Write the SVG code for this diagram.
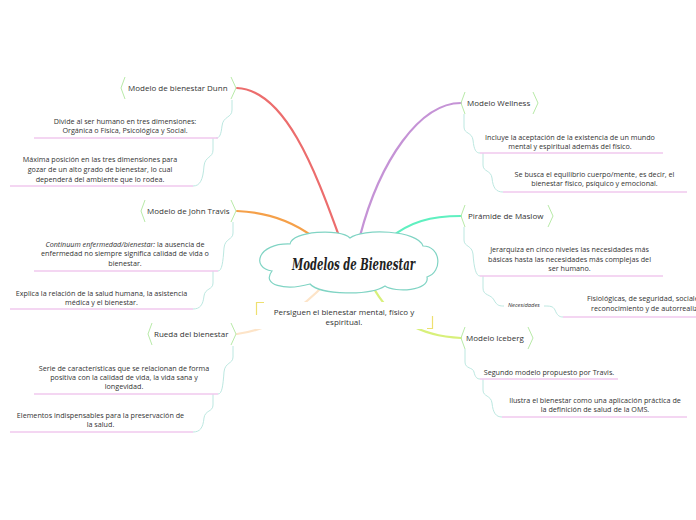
<svg xmlns="http://www.w3.org/2000/svg" width="696" height="520" viewBox="0 0 696 520">
<style>
.bg{fill:#ffffff}
.main{fill:none;stroke-width:2.2;stroke-linecap:round}
.sub{fill:none;stroke:#b4e4dc;stroke-width:0.9}
.ul{fill:none;stroke:#f0c8ee;stroke-width:1.3}
.br{fill:none;stroke:#b8eaa8;stroke-width:1}
.lbl{font-family:"Open Sans","Noto Sans",sans-serif;font-size:8px;fill:#333}
.txt{font-family:"Open Sans","Noto Sans",sans-serif;font-size:7.2px;fill:#333;text-anchor:middle}
.txtl{font-family:"Open Sans","Noto Sans",sans-serif;font-size:7.2px;fill:#333}
.sm{font-family:"Open Sans","Noto Sans",sans-serif;font-size:5.8px;fill:#333;font-style:italic}
.sum{font-family:"Open Sans","Noto Sans",sans-serif;font-size:8px;fill:#333;text-anchor:middle}
.title{font-family:"DejaVu Serif","Liberation Serif",serif;font-size:16px;font-style:italic;font-weight:bold;fill:#222}
.yc{fill:none;stroke:#eee070;stroke-width:1.2}
</style>
<rect class="bg" x="0" y="0" width="696" height="520"/>
<g id="connectors">
<path class="main" stroke="#ec6d6d" d="M 237 88 C 285 90, 315 170, 339 236"/>
<path class="main" stroke="#c593d6" d="M 461 103 C 420 103, 380 160, 360 236"/>
<path class="main" stroke="#f5a049" d="M 237 211 C 265 212, 290 220, 312 236"/>
<path class="main" stroke="#5ff0c0" d="M 461 216 C 430 216, 410 222, 390 238"/>
<path class="main" stroke="#fde4c8" d="M 325 284 C 300 310, 270 330, 237 334"/>
<path class="main" stroke="#d8f07a" d="M 372 285 C 390 320, 420 336, 461 338"/>
<path class="sub" d="M 232 100 V 110 C 232 118, 223 116, 222 126 C 221 134, 220 138, 216 138"/>
<path class="sub" d="M 213 138 V 150 C 213 158, 205 156, 204 166 C 203 180, 200 186, 193 186"/>
<path class="sub" d="M 233 222 V 233 C 233 240, 225 238, 224 248 C 223 262, 222 271, 218 271"/>
<path class="sub" d="M 213 271 V 283 C 213 290, 205 288, 204 296 C 203 305, 200 309, 193 309"/>
<path class="sub" d="M 233 346 V 357 C 233 364, 225 362, 224 372 C 223 386, 222 394, 218 394"/>
<path class="sub" d="M 213 394 V 405 C 213 412, 205 410, 204 418 C 203 428, 200 432, 193 432"/>
<path class="sub" d="M 464 114 V 127 C 464 134, 472 132, 473 140 C 474 150, 476 153, 480 153"/>
<path class="sub" d="M 483 153 V 165 C 483 172, 491 170, 492 178 C 493 188, 496 192, 503 192"/>
<path class="sub" d="M 464 227 V 240 C 464 247, 472 245, 473 254 C 474 268, 476 276, 480 276"/>
<path class="sub" d="M 483 276 V 288 C 483 296, 491 294, 494 300 C 497 306, 500 306, 504 306"/>
<path class="sub" d="M 544 306 C 550 306, 553 306, 555 310 C 557 315, 559 317, 563 317"/>
<path class="sub" d="M 465 349 V 362 C 465 369, 473 367, 474 372 C 475 377, 477 379, 480 379"/>
<path class="sub" d="M 483 379 V 390 C 483 397, 491 395, 492 403 C 493 413, 496 417, 502 417"/>
</g>
<g id="center">
<path d="M 290 244 C 292 231, 340 228, 350 238 C 362 228, 418 230, 423 246 C 441 246, 443 272, 427 277 C 430 291, 395 293, 385 286 C 370 296, 320 295, 310 284 C 285 291, 261 285, 272 271 C 251 268, 257 243, 290 244 Z" fill="#ffffff" stroke="#80d4c4" stroke-width="1.2"/>
<text class="title" x="292" y="270" textLength="123" lengthAdjust="spacingAndGlyphs">Modelos de Bienestar</text>
</g>
<g id="summary">
<rect x="256" y="302" width="177" height="27" fill="#ffffff"/>
<path class="yc" d="M 264 302.5 H 256.5 V 315"/>
<path class="yc" d="M 427 328.5 H 432.5 V 316"/>
<text class="sum" x="344" y="315">Persiguen el bienestar mental, físico y</text>
<text class="sum" x="344" y="325">espiritual.</text>
</g>
<g id="dunn">
<path class="br" d="M 125 77 L 121 88 L 125 99"/>
<path class="br" d="M 231 77 L 236 88 L 231 99"/>
<text class="lbl" x="128" y="91">Modelo de bienestar Dunn</text>
</g>
<g id="dunn-1">
<path class="ul" d="M 34 138 H 218"/>
<text class="txt" x="125" y="124">Divide al ser humano en tres dimensiones:</text>
<text class="txt" x="125" y="133">Orgánica o Física, Psicológica y Social.</text>
</g>
<g id="dunn-2">
<path class="ul" d="M 10 186 H 193"/>
<text class="txt" x="100" y="162">Máxima posición en las tres dimensiones para</text>
<text class="txt" x="100" y="172">gozar de un alto grado de bienestar, lo cual</text>
<text class="txt" x="100" y="181.5">dependerá del ambiente que lo rodea.</text>
</g>
<g id="travis">
<path class="br" d="M 145 200 L 141 211 L 145 222"/>
<path class="br" d="M 231 200 L 236 211 L 231 222"/>
<text class="lbl" x="147" y="214">Modelo de John Travis</text>
</g>
<g id="travis-1">
<path class="ul" d="M 34 271 H 218"/>
<text class="txt" x="125" y="247"><tspan font-style="italic">Continuum enfermedad/bienestar:</tspan> la ausencia de</text>
<text class="txt" x="125" y="256">enfermedad no siempre significa calidad de vida o</text>
<text class="txt" x="125" y="265.5">bienestar.</text>
</g>
<g id="travis-2">
<path class="ul" d="M 10 309 H 193"/>
<text class="txt" x="101.5" y="295.5">Explica la relación de la salud humana, la asistencia</text>
<text class="txt" x="101.5" y="304.5">médica y el bienestar.</text>
</g>
<g id="rueda">
<path class="br" d="M 152 323 L 148 334 L 152 345"/>
<path class="br" d="M 231 323 L 236 334 L 231 345"/>
<text class="lbl" x="154" y="337">Rueda del bienestar</text>
</g>
<g id="rueda-1">
<path class="ul" d="M 34 394 H 218"/>
<text class="txt" x="124" y="370.5">Serie de características que se relacionan de forma</text>
<text class="txt" x="124" y="380">positiva con la calidad de vida, la vida sana y</text>
<text class="txt" x="124" y="389">longevidad.</text>
</g>
<g id="rueda-2">
<path class="ul" d="M 10 432 H 193"/>
<text class="txt" x="100.5" y="418">Elementos indispensables para la preservación de</text>
<text class="txt" x="100.5" y="427">la salud.</text>
</g>
<g id="wellness">
<path class="br" d="M 465 92 L 461 103 L 465 114"/>
<path class="br" d="M 533 92 L 538 103 L 533 114"/>
<text class="lbl" x="467" y="106">Modelo Wellness</text>
</g>
<g id="wellness-1">
<path class="ul" d="M 480 153 H 663"/>
<text class="txt" x="570" y="139.5">Incluye la aceptación de la existencia de un mundo</text>
<text class="txt" x="570" y="148.5">mental y espiritual además del físico.</text>
</g>
<g id="wellness-2">
<path class="ul" d="M 503 192 H 687"/>
<text class="txt" x="594.5" y="176.5">Se busca el equilibrio cuerpo/mente, es decir, el</text>
<text class="txt" x="594.5" y="186">bienestar físico, psíquico y emocional.</text>
</g>
<g id="maslow">
<path class="br" d="M 465 205 L 461 216 L 465 227"/>
<path class="br" d="M 548 205 L 553 216 L 548 227"/>
<text class="lbl" x="468" y="219">Pirámide de Maslow</text>
</g>
<g id="maslow-1">
<path class="ul" d="M 480 276 H 663"/>
<text class="txt" x="569.5" y="252">Jerarquiza en cinco niveles las necesidades más</text>
<text class="txt" x="569.5" y="261.5">básicas hasta las necesidades más complejas del</text>
<text class="txt" x="569.5" y="270.5">ser humano.</text>
</g>
<g id="necesidades">
<text class="sm" x="508" y="306.5">Necesidades</text>
</g>
<g id="maslow-2">
<path class="ul" d="M 563 317 H 696"/>
<text class="txtl" x="587" y="301">Fisiológicas, de seguridad, sociales,</text>
<text class="txtl" x="591" y="311">reconocimiento y de autorrealización.</text>
</g>
<g id="iceberg">
<path class="br" d="M 465 327 L 461 338 L 465 349"/>
<path class="br" d="M 528 327 L 533 338 L 528 349"/>
<text class="lbl" x="466" y="341">Modelo Iceberg</text>
</g>
<g id="iceberg-1">
<path class="ul" d="M 480 379 H 618"/>
<text class="txt" x="549" y="374.5">Segundo modelo propuesto por Travis.</text>
</g>
<g id="iceberg-2">
<path class="ul" d="M 502 417 H 687"/>
<text class="txt" x="595" y="403">Ilustra el bienestar como una aplicación práctica de</text>
<text class="txt" x="595" y="412">la definición de salud de la OMS.</text>
</g>
</svg>
